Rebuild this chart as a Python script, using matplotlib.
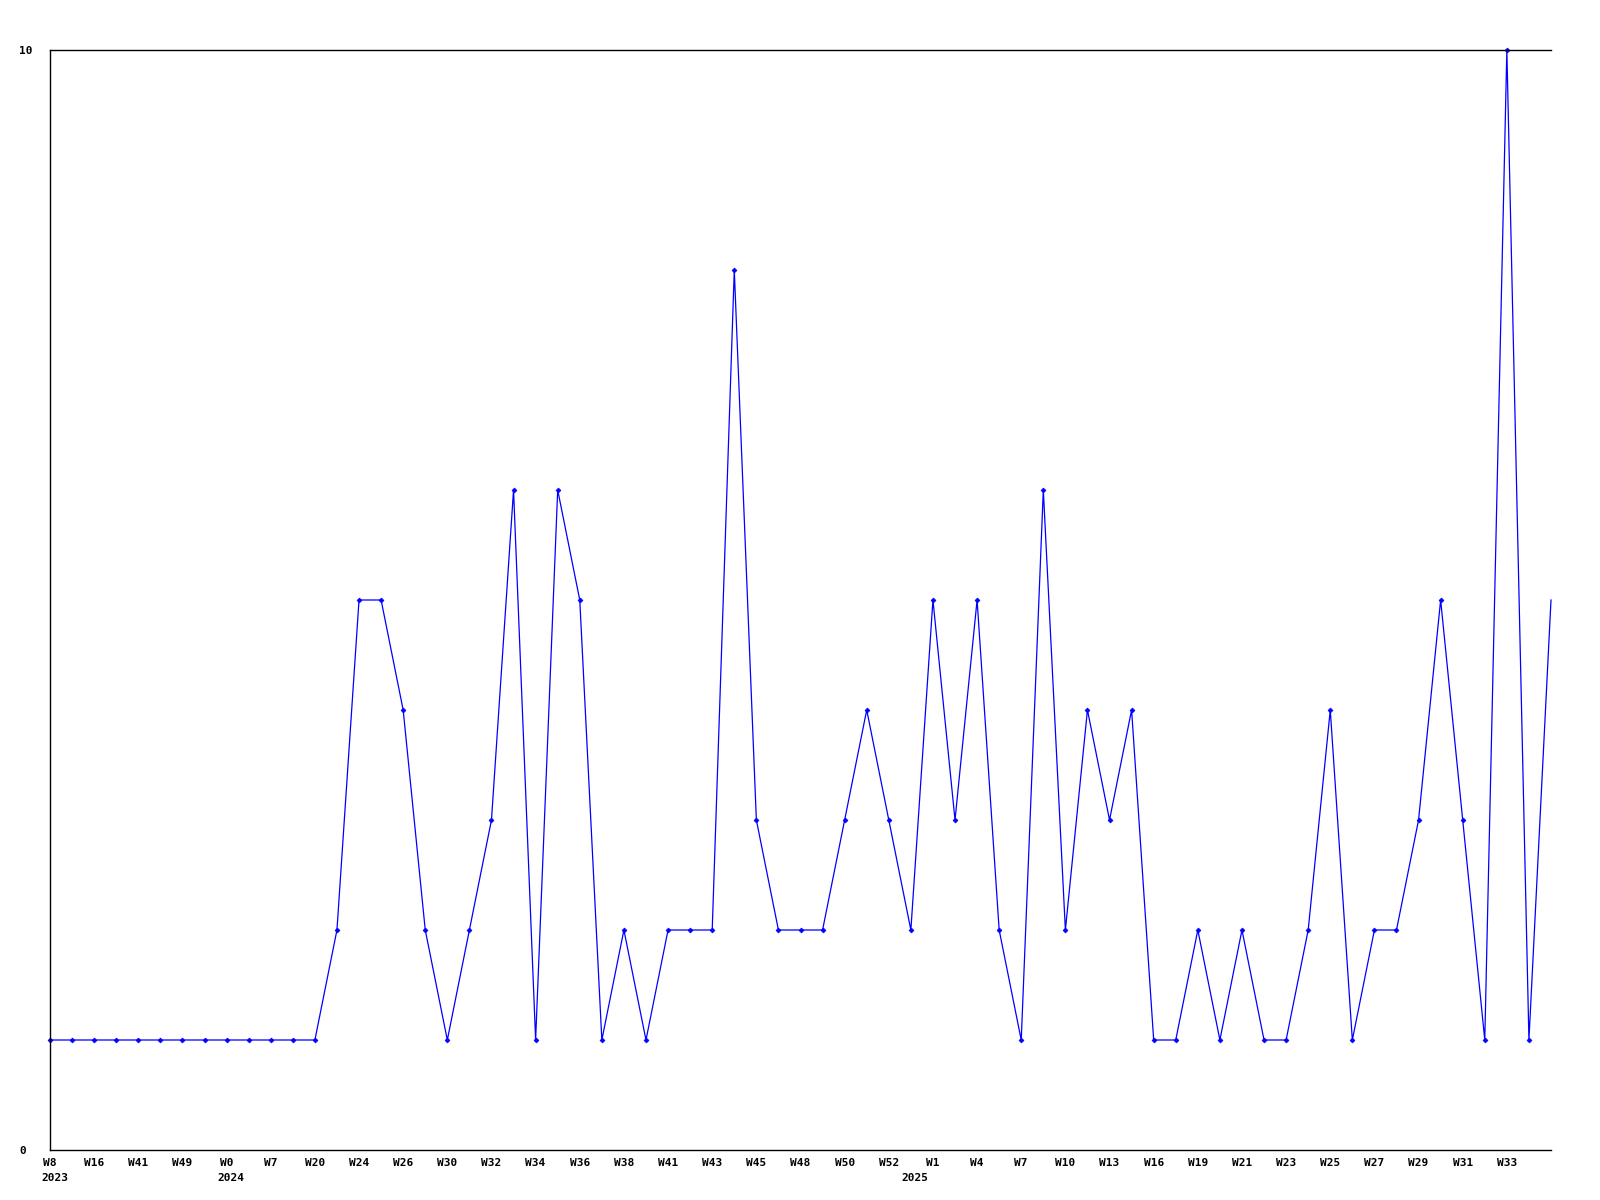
import matplotlib
matplotlib.use("Agg")
import matplotlib.pyplot as plt
from matplotlib.transforms import blended_transform_factory, offset_copy

# ---- data ----
values = [1, 1, 1, 1, 1, 1, 1, 1, 1, 1, 1, 1, 1, 2, 5, 5, 4, 2, 1, 2,
          3, 6, 1, 6, 5, 1, 2, 1, 2, 2, 2, 8, 3, 2, 2, 2, 3, 4, 3, 2,
          5, 3, 5, 2, 1, 6, 2, 4, 3, 4, 1, 1, 2, 1, 2, 1, 1, 2, 4, 1,
          2, 2, 3, 5, 3, 1, 10, 1, 5]
week_labels = ["W8", "W16", "W41", "W49", "W0", "W7", "W20", "W24", "W26", "W30",
               "W32", "W34", "W36", "W38", "W41", "W43", "W45", "W48", "W50", "W52",
               "W1", "W4", "W7", "W10", "W13", "W16", "W19", "W21", "W23", "W25",
               "W27", "W29", "W31", "W33"]
year_labels = ["2023", "2024", "2025"]
year_positions = [0, 8, 39]
y_ticks = [0, 10]

# ---- figure ----
fig = plt.figure(figsize=(16, 12), dpi=100)
ax = fig.add_axes([50 / 1600, 1 - 1150 / 1200, 1501 / 1600, 1100 / 1200])

x = list(range(len(values)))
ax.plot(x, values[:], color="#0000ff", linewidth=0.9, marker="D", markersize=2.5,
        markeredgewidth=0.5, markevery=list(range(len(values) - 1)), clip_on=False)

ax.set_xlim(0, len(values) - 1)
ax.set_ylim(0, 10)

ax.spines["right"].set_visible(False)
for s in ("left", "top", "bottom"):
    ax.spines[s].set_linewidth(1.0)
    ax.spines[s].set_color("black")

font = dict(family="DejaVu Sans Mono", weight="bold", size=8)

ax.set_xticks(list(range(0, 2 * len(week_labels), 2)))
ax.set_xticklabels(week_labels, **font)
ax.tick_params(axis="x", length=0, pad=6)

ax.set_yticks(y_ticks)
ax.set_yticklabels([str(v) for v in y_ticks], **font)
ax.tick_params(axis="y", length=0, pad=22)
for lbl in ax.get_yticklabels():
    lbl.set_horizontalalignment("left")

trans = blended_transform_factory(ax.transData, ax.transAxes)
trans = offset_copy(trans, fig=fig, x=-9, y=-23, units="dots")
for pos, yr in zip(year_positions, year_labels):
    ax.text(pos, 0, yr, transform=trans, ha="left", va="top", **font)

fig.savefig("out.png", dpi=100)
